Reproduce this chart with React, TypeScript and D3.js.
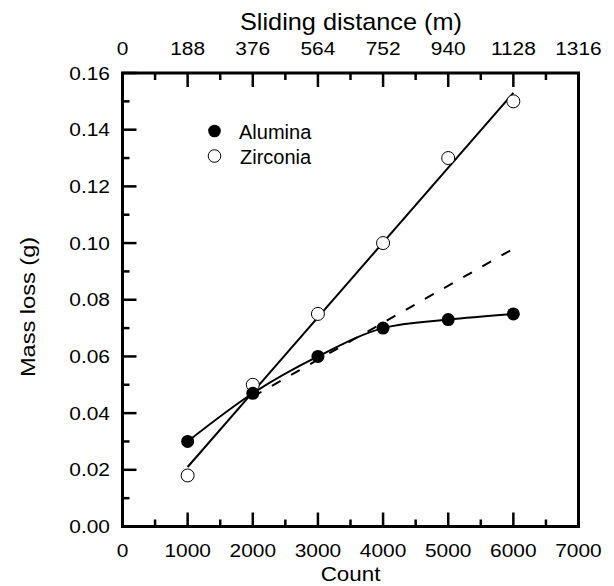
import React from "react";
import * as d3 from "d3";

const counts = [1000, 2000, 3000, 4000, 5000, 6000];
const alumina = [0.03, 0.047, 0.06, 0.07, 0.073, 0.075];
const zirconia = [0.018, 0.05, 0.075, 0.1, 0.13, 0.15];
const zirconiaFitX = [1000, 6000];
const zirconiaFitY = [0.021, 0.153];
const dashX = [2000, 6000];
const dashY = [0.0458, 0.098];
const bottomTicks = [0, 1000, 2000, 3000, 4000, 5000, 6000, 7000];
const minorX = [500, 1500, 2500, 3500, 4500, 5500, 6500];
const topLabels = ["0", "188", "376", "564", "752", "940", "1128", "1316"];
const yTicks = [0, 0.02, 0.04, 0.06, 0.08, 0.1, 0.12, 0.14, 0.16];
const yMinor = [0.01, 0.03, 0.05, 0.07, 0.09, 0.11, 0.13, 0.15];

const W = 614, H = 586;
const L = 122.5, R = 578.5, T = 73, B = 526.5;
const FONT = "'Liberation Sans', Arial, sans-serif";

function ST(props: { x: number; y: number; size: number; sx?: number; anchor?: string; rot?: number; dy?: string; children: React.ReactNode }) {
  const { x, y, size, sx = 1, anchor = "start", rot, dy, children } = props;
  const tr = `translate(${x},${y})${rot ? ` rotate(${rot})` : ""} scale(${sx},1)`;
  return (
    <text transform={tr} fontSize={size} textAnchor={anchor as any} dy={dy} fill="#000">
      {children}
    </text>
  );
}

export default function App() {
  const x = d3.scaleLinear().domain([0, 7000]).range([L, R]);
  const y = d3.scaleLinear().domain([0, 0.16]).range([B, T]);
  const line = d3.line<[number, number]>().x(d => x(d[0])).y(d => y(d[1]));
  const curve = d3.line<[number, number]>().x(d => x(d[0])).y(d => y(d[1])).curve(d3.curveMonotoneX);
  const alPts = counts.map((c, i) => [c, alumina[i]] as [number, number]);
  const zrPts = counts.map((c, i) => [c, zirconia[i]] as [number, number]);
  const zfit = zirconiaFitX.map((c, i) => [c, zirconiaFitY[i]] as [number, number]);
  const dash = dashX.map((c, i) => [c, dashY[i]] as [number, number]);
  const MAJ = 14, MIN = 7, SW = 2.5;
  return (
    <svg width={W} height={H} style={{ position: "absolute", left: 0, top: 0, background: "#fff" }} fontFamily={FONT}>
      <rect x={0} y={0} width={W} height={H} fill="#fff" />
      {bottomTicks.map(t => (
        <g key={"bt" + t}>
          <line x1={x(t)} x2={x(t)} y1={B} y2={B - MAJ} stroke="#000" strokeWidth={SW} />
          <line x1={x(t)} x2={x(t)} y1={T} y2={T + MAJ} stroke="#000" strokeWidth={SW} />
        </g>
      ))}
      {minorX.map(t => (
        <g key={"mt" + t}>
          <line x1={x(t)} x2={x(t)} y1={B} y2={B - MIN} stroke="#000" strokeWidth={SW} />
          <line x1={x(t)} x2={x(t)} y1={T} y2={T + MIN} stroke="#000" strokeWidth={SW} />
        </g>
      ))}
      {yTicks.map(t => (
        <line key={"yt" + t} x1={L} x2={L + MAJ} y1={y(t)} y2={y(t)} stroke="#000" strokeWidth={SW} />
      ))}
      {yMinor.map(t => (
        <line key={"ym" + t} x1={L} x2={L + MIN} y1={y(t)} y2={y(t)} stroke="#000" strokeWidth={SW} />
      ))}
      <rect x={L} y={T} width={R - L} height={B - T} fill="none" stroke="#000" strokeWidth={3} />
      {bottomTicks.map(t => (
        <ST key={"bl" + t} x={x(t)} y={557} size={19} sx={1.1} anchor="middle">{t}</ST>
      ))}
      {bottomTicks.map((t, i) => (
        <ST key={"tl" + t} x={x(t)} y={55} size={19} sx={1.1} anchor="middle">{topLabels[i]}</ST>
      ))}
      {yTicks.map(t => (
        <ST key={"yl" + t} x={110} y={y(t) + 6.5} size={19} sx={1.1} anchor="end">{t.toFixed(2)}</ST>
      ))}
      <ST x={(L + R) / 2} y={581} size={20} sx={1.12} anchor="middle">Count</ST>
      <ST x={351} y={30} size={23} sx={1.1} anchor="middle">Sliding distance (m)</ST>
      <ST x={35} y={307} size={20} sx={1.18} anchor="middle" rot={-90}>Mass loss (g)</ST>
      <path d={line(zfit) || ""} fill="none" stroke="#000" strokeWidth={2} />
      <path d={line(dash) || ""} fill="none" stroke="#000" strokeWidth={2} strokeDasharray="10,12" />
      <path d={curve(alPts) || ""} fill="none" stroke="#000" strokeWidth={2} />
      {zrPts.map((p, i) => (
        <circle key={"z" + i} cx={x(p[0])} cy={y(p[1])} r={6.5} fill="#fff" stroke="#000" strokeWidth={1} />
      ))}
      {alPts.map((p, i) => (
        <circle key={"a" + i} cx={x(p[0])} cy={y(p[1])} r={6.5} fill="#000" />
      ))}
      <circle cx={214.5} cy={131} r={6.3} fill="#000" />
      <ST x={239} y={139} size={20}>Alumina</ST>
      <circle cx={214.5} cy={156} r={6.3} fill="#fff" stroke="#000" strokeWidth={1} />
      <ST x={240} y={164} size={20}>Zirconia</ST>
    </svg>
  );
}
